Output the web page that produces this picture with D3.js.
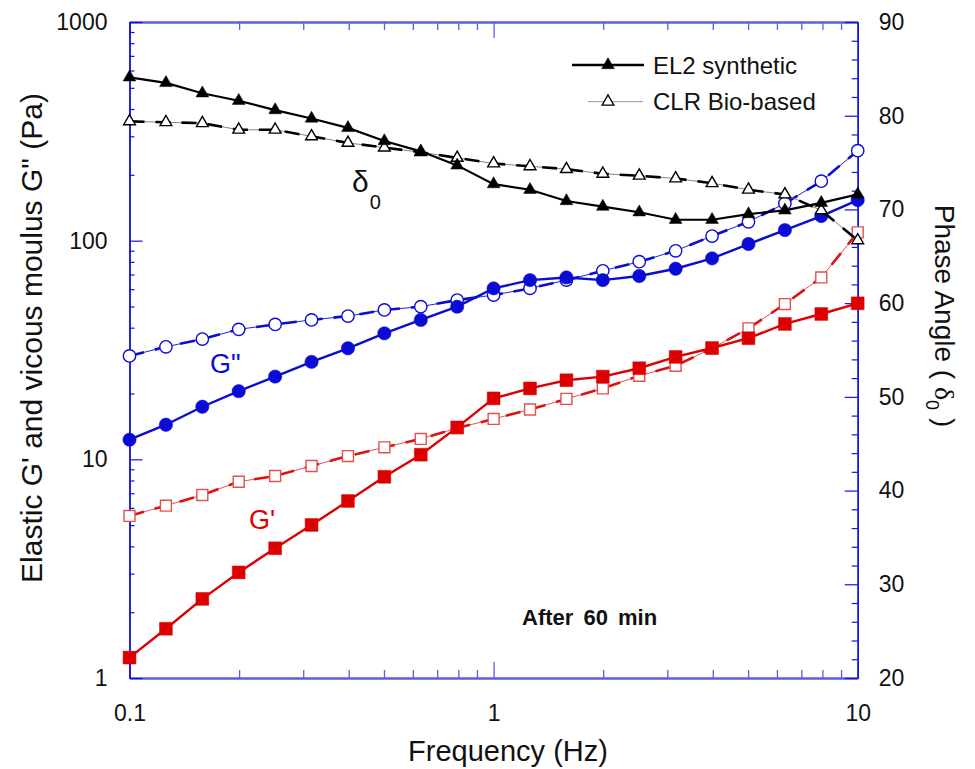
<!DOCTYPE html>
<html><head><meta charset="utf-8">
<script src="https://cdn.jsdelivr.net/npm/d3@7"></script>
<style>body{margin:0;background:#fff}svg{display:block}text{font-family:"Liberation Sans",Arial,sans-serif}</style>
</head><body>
<svg id="c" width="975" height="769"></svg>
<script>
// ---- data ----
const freq = [0.1,0.1259,0.1585,0.1995,0.2512,0.3162,0.3981,0.5012,0.631,0.7943,1,1.259,1.585,1.995,2.512,3.162,3.981,5.012,6.31,7.943,10];
const deltaEL2 = [84.1,83.5,82.4,81.6,80.6,79.7,78.7,77.3,76.2,74.7,72.7,72.1,70.9,70.3,69.7,68.9,68.9,69.5,69.9,70.7,71.6];
const deltaCLR = [79.4,79.3,79.2,78.5,78.5,77.8,77.1,76.6,76.1,75.5,74.9,74.6,74.3,73.8,73.6,73.3,72.8,72.1,71.6,69.9,66.7];
const GppEL2 = [12.3,14.4,17.4,20.5,23.9,27.9,32.2,37.7,43.4,49.9,60.5,66.0,67.9,66.0,68.9,74.4,83.0,96.5,111.8,129.6,153.3];
const GppCLR = [29.7,32.7,35.5,39.3,41.4,43.4,45.2,48.2,49.9,53.5,56.4,60.5,66.0,72.8,80.1,89.9,105,122,148,187,258];
const GpEL2 = [1.24,1.68,2.30,3.04,3.92,5.01,6.45,8.32,10.5,14.0,19.0,21.1,23.0,23.9,26.1,29.4,32.3,35.8,41.6,46.2,51.7];
const GpCLR = [5.51,6.14,6.87,7.90,8.39,9.32,10.35,11.35,12.4,13.9,15.3,16.9,18.9,21.1,24.1,26.8,32.2,39.7,51.3,67.9,109.1];
const xMajor = [0.1,1,10];
const yLeftMajor = [1,10,100,1000];
const yRightMajor = [20,30,40,50,60,70,80,90];
const legendLabels = ["EL2 synthetic","CLR Bio-based"];

// ---- layout ----
const L=129.5, R=857.7, T=22, B=678;
const svg = d3.select("#c");
const x = d3.scaleLog().domain([0.1,10]).range([L,R]);
const yL = d3.scaleLog().domain([1,1000]).range([B,T]);
const yR = d3.scaleLinear().domain([20,90]).range([B,T]);

const minorLog = (lo,hi)=>{const a=[];for(let d=lo;d<hi;d*=10)for(let k=2;k<=9;k++)a.push(d*k);return a;};
const xMinor = minorLog(0.1,10);
const yLMinor = minorLog(1,1000);
const yRMinor = d3.range(22,90,2).filter(v=>v%10!==0);

const axBlue="#1010e8", axLight="#5c5ce6";
const fmt = d=>d3.format("~g")(d);

function hAxis(yPos, labels){
  const g = svg.append("g").attr("transform",`translate(0,${yPos})`);
  g.append("g").call((yPos===B?d3.axisBottom(x):d3.axisTop(x)).tickValues(xMinor).tickSizeInner(-8).tickSizeOuter(0).tickFormat(""));
  g.append("g").call((yPos===B?d3.axisBottom(x):d3.axisTop(x)).tickValues(xMajor).tickSizeInner(-16).tickSizeOuter(0).tickPadding(27).tickFormat(labels?fmt:""));
  g.selectAll("path.domain").attr("stroke",axLight).attr("stroke-width",2);
  g.selectAll(".tick line").attr("stroke",axLight).attr("stroke-width",1.3);
  g.selectAll("text").attr("fill","#111").attr("font-size",23).attr("font-family","Liberation Sans, Arial, sans-serif");
}
hAxis(B,true);
hAxis(T,false);

{
  const g = svg.append("g").attr("transform",`translate(${L},0)`);
  g.append("g").call(d3.axisLeft(yL).tickValues(yLMinor).tickSizeInner(-5).tickSizeOuter(0).tickFormat(""));
  g.append("g").call(d3.axisLeft(yL).tickValues(yLeftMajor).tickSizeInner(-13).tickSizeOuter(0).tickPadding(22).tickFormat(fmt));
  g.selectAll("path.domain").attr("stroke",axBlue).attr("stroke-width",1.4);
  g.selectAll(".tick line").attr("stroke",axBlue).attr("stroke-width",1.2);
  g.selectAll("text").attr("fill","#111").attr("font-size",23).attr("font-family","Liberation Sans, Arial, sans-serif");
}
{
  const g = svg.append("g").attr("transform",`translate(${R},0)`);
  g.append("g").call(d3.axisRight(yR).tickValues(yRMinor).tickSizeInner(-6).tickSizeOuter(0).tickFormat(""));
  g.append("g").call(d3.axisRight(yR).tickValues(yRightMajor).tickSizeInner(-13).tickSizeOuter(0).tickPadding(21).tickFormat(fmt));
  g.selectAll("path.domain").attr("stroke",axBlue).attr("stroke-width",1.4);
  g.selectAll(".tick line").attr("stroke",axBlue).attr("stroke-width",1.2);
  g.selectAll("text").attr("fill","#111").attr("font-size",23).attr("font-family","Liberation Sans, Arial, sans-serif");
}

// axis titles
svg.append("text").attr("x",508).attr("y",761).attr("text-anchor","middle").attr("font-size",29).attr("fill","#111").text("Frequency (Hz)");
svg.append("text").attr("transform","translate(42,338) rotate(-90)").attr("text-anchor","middle").attr("font-size",30).attr("fill","#111").text("Elastic G' and vicous moulus G\" (Pa)");
{
  const t = svg.append("text").attr("transform","translate(935,316) rotate(90)").attr("text-anchor","middle").attr("font-size",28).attr("fill","#111");
  t.append("tspan").text("Phase Angle ( ");
  t.append("tspan").attr("font-family","Liberation Serif, Times New Roman, serif").text("δ");
  t.append("tspan").attr("font-size",18).attr("dy",9).text("0");
  t.append("tspan").attr("dy",-9).text(" )");
}

function series(xs, ys, yScale, opt){
  const pts = xs.map((f,i)=>[x(f), yScale(ys[i])]);
  const line = d3.line();
  const g = svg.append("g");
  if(opt.dashed){
    g.append("path").attr("d",line(pts)).attr("fill","none").attr("stroke",opt.thin).attr("stroke-width",0.9);
    g.append("path").attr("d",line(pts)).attr("fill","none").attr("stroke",opt.color).attr("stroke-width",2.6).attr("stroke-dasharray","15,11");
  } else {
    g.append("path").attr("d",line(pts)).attr("fill","none").attr("stroke",opt.color).attr("stroke-width",opt.lw||2.4);
  }
  const sym = d3.symbol().type(opt.symbol).size(opt.size);
  g.selectAll("path.m").data(pts).join("path").attr("class","m")
    .attr("transform",d=>`translate(${d[0]},${d[1]})`)
    .attr("d",sym())
    .attr("fill",opt.filled?opt.color:"#fff")
    .attr("stroke",opt.filled?opt.color:opt.mstroke)
    .attr("stroke-width",opt.filled?0.5:1.4);
}
series(freq, GpCLR, yL, {dashed:true,color:"#e01010",thin:"#e04040",symbol:d3.symbolSquare,size:120,filled:false,mstroke:"#e45050"});
series(freq, GpEL2, yL, {dashed:false,color:"#dd0000",symbol:d3.symbolSquare,size:165,filled:true});
series(freq, GppCLR, yL, {dashed:true,color:"#0b0bd6",thin:"#0b0bd6",symbol:d3.symbolCircle,size:120,filled:false,mstroke:"#0b0bd6"});
series(freq, GppEL2, yL, {dashed:false,color:"#0b0bd6",symbol:d3.symbolCircle,size:140,filled:true});
series(freq, deltaCLR, yR, {dashed:true,color:"#000",thin:"#777",symbol:d3.symbolTriangle,size:60,filled:false,mstroke:"#000"});
series(freq, deltaEL2, yR, {dashed:false,color:"#000",symbol:d3.symbolTriangle,size:70,filled:true,lw:2.2});

svg.append("text").attr("x",210).attr("y",373).attr("font-size",27).attr("fill","#0b0bd6").text("G\"");
svg.append("text").attr("x",249).attr("y",529).attr("font-size",27).attr("fill","#dd0000").text("G'");
{
  const t = svg.append("text").attr("x",352).attr("y",192).attr("font-family","Liberation Serif, Times New Roman, serif").attr("font-size",30).attr("fill","#111");
  t.append("tspan").text("δ");
  t.append("tspan").attr("font-size",20).attr("dx",1).attr("dy",17).text("0");
}
svg.append("text").attr("x",522).attr("y",625).attr("font-size",22).attr("font-weight","bold").attr("word-spacing",4).attr("fill","#111").text("After 60 min");

{
  const rows = [{y:65, thick:true},{y:101.7, thick:false}];
  rows.forEach((r,i)=>{
    const g = svg.append("g");
    if(r.thick){
      g.append("line").attr("x1",572).attr("x2",644).attr("y1",r.y).attr("y2",r.y).attr("stroke","#000").attr("stroke-width",2.6);
    } else {
      g.append("line").attr("x1",588).attr("x2",643).attr("y1",r.y).attr("y2",r.y).attr("stroke","#888").attr("stroke-width",0.9);
    }
    g.append("path").attr("transform",`translate(608,${r.y})`).attr("d",d3.symbol().type(d3.symbolTriangle).size(r.thick?70:60)())
      .attr("fill",r.thick?"#000":"#fff").attr("stroke","#000").attr("stroke-width",r.thick?0.5:1.3);
    g.append("text").attr("x",653).attr("y",r.y+8.5).attr("font-size",24).attr("fill","#111").text(legendLabels[i]);
  });
}
</script>
</body></html>
